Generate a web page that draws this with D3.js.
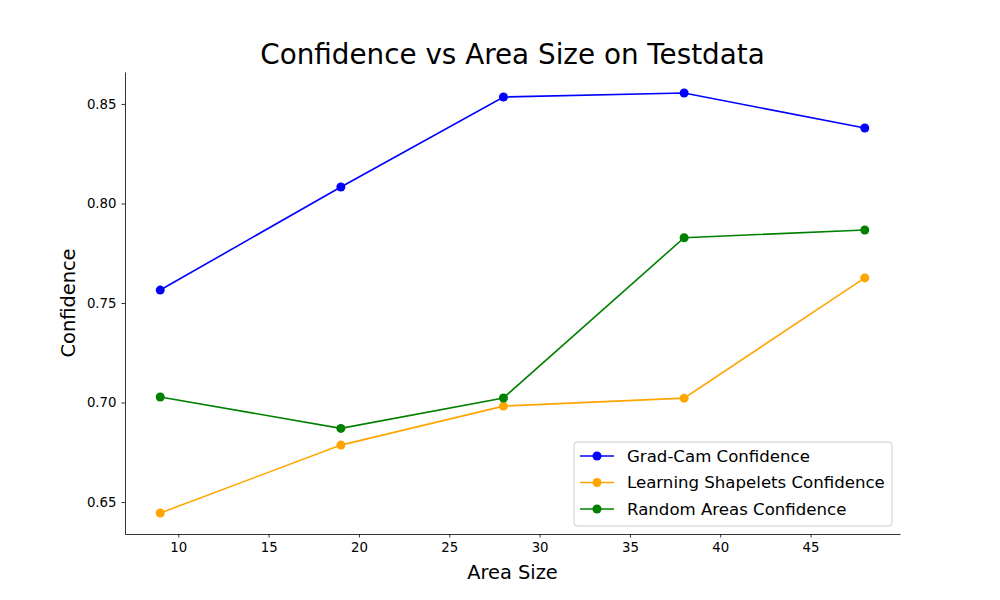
<!DOCTYPE html>
<html lang="en">
<head>
    <meta charset="UTF-8">
    <title>Confidence vs Area Size on Testdata</title>
    <style>
        body { margin: 0; background: #fff; }
        svg text { font-family: "DejaVu Sans", sans-serif; }
    </style>
</head>
<body>
    <div id="chart"></div>
    <script src="https://d3js.org/d3.v7.min.js"></script>
    <script>
        var areaSizes = [9, 19, 28, 38, 48];
        var gradCam = [0.7565, 0.8083, 0.8535, 0.8555, 0.8379];
        var shapelets = [0.6445, 0.6786, 0.6982, 0.7022, 0.7626];
        var randomAreas = [0.7028, 0.6870, 0.7023, 0.7828, 0.7867];
        var xTicks = [10, 15, 20, 25, 30, 35, 40, 45];
        var yTicks = [0.65, 0.70, 0.75, 0.80, 0.85];

        var series = [
            {name: 'Grad-Cam Confidence', values: gradCam, color: '#0000ff'},
            {name: 'Learning Shapelets Confidence', values: shapelets, color: '#ffa500'},
            {name: 'Random Areas Confidence', values: randomAreas, color: '#008000'}
        ];

        var margin = {top: 72, right: 100, bottom: 66, left: 125},
            width = 1000 - margin.left - margin.right,
            height = 600 - margin.top - margin.bottom;

        var svg = d3.select('#chart')
            .append('svg')
                .attr('width', 1000)
                .attr('height', 600);

        var g = svg.append('g')
            .attr('transform', 'translate(' + margin.left + ',' + margin.top + ')');

        // matplotlib style 5% padding
        var xPad = (d3.max(areaSizes) - d3.min(areaSizes)) * 0.05;
        var x = d3.scaleLinear()
            .domain([d3.min(areaSizes) - xPad, d3.max(areaSizes) + xPad])
            .range([0, width]);

        var allVals = gradCam.concat(shapelets, randomAreas);
        var yPad = (d3.max(allVals) - d3.min(allVals)) * 0.05;
        var y = d3.scaleLinear()
            .domain([d3.min(allVals) - yPad, d3.max(allVals) + yPad])
            .range([height, 0]);

        var xAxis = g.append('g')
            .attr('transform', 'translate(0,' + height + ')')
            .call(d3.axisBottom(x).tickValues(xTicks).tickSizeInner(3.5).tickSizeOuter(0).tickPadding(5).tickFormat(d3.format('d')));

        var yAxis = g.append('g')
            .call(d3.axisLeft(y).tickValues(yTicks).tickSizeInner(3.5).tickSizeOuter(0).tickPadding(5).tickFormat(d3.format('.2f')));

        [xAxis, yAxis].forEach(function(a) {
            a.selectAll('text').style('font-size', '13.3px').attr('fill', '#000');
            a.selectAll('line').attr('stroke', '#000').attr('stroke-width', 0.8);
            a.select('.domain').attr('stroke', '#000').attr('stroke-width', 0.8);
        });

        var line = d3.line()
            .x(function(d, i) { return x(areaSizes[i]); })
            .y(function(d) { return y(d); });

        series.forEach(function(s) {
            g.append('path')
                .datum(s.values)
                .attr('fill', 'none')
                .attr('stroke', s.color)
                .attr('stroke-width', 1.6)
                .attr('d', line);

            g.selectAll('.dot-' + s.name.length)
                .data(s.values)
                .enter()
                .append('circle')
                    .attr('cx', function(d, i) { return x(areaSizes[i]); })
                    .attr('cy', function(d) { return y(d); })
                    .attr('r', 4.5)
                    .attr('fill', s.color);
        });

        // title and axis labels
        svg.append('text')
            .attr('x', margin.left + width / 2)
            .attr('y', 64)
            .attr('text-anchor', 'middle')
            .style('font-size', '27.8px')
            .text('Confidence vs Area Size on Testdata');

        svg.append('text')
            .attr('x', margin.left + width / 2)
            .attr('y', 579)
            .attr('text-anchor', 'middle')
            .style('font-size', '19.4px')
            .text('Area Size');

        svg.append('text')
            .attr('transform', 'translate(75,' + (margin.top + height / 2) + ') rotate(-90)')
            .attr('text-anchor', 'middle')
            .style('font-size', '19.4px')
            .text('Confidence');

        // legend
        var legend = svg.append('g')
            .attr('transform', 'translate(574,442)');

        legend.append('rect')
            .attr('width', 318)
            .attr('height', 84)
            .attr('rx', 3)
            .attr('fill', '#fff')
            .attr('fill-opacity', 0.8)
            .attr('stroke', '#ccc');

        var items = legend.selectAll('.legend')
            .data(series)
            .enter().append('g')
            .attr('class', 'legend')
            .attr('transform', function(d, i) { return 'translate(0,' + (14 + i * 26.5) + ')'; });

        items.append('line')
            .attr('x1', 6).attr('x2', 40)
            .attr('stroke', function(d) { return d.color; })
            .attr('stroke-width', 1.6);

        items.append('circle')
            .attr('cx', 23)
            .attr('r', 4.5)
            .attr('fill', function(d) { return d.color; });

        items.append('text')
            .attr('x', 53)
            .attr('dy', '0.35em')
            .style('font-size', '16.6px')
            .text(function(d) { return d.name; });
    </script>
</body>
</html>
